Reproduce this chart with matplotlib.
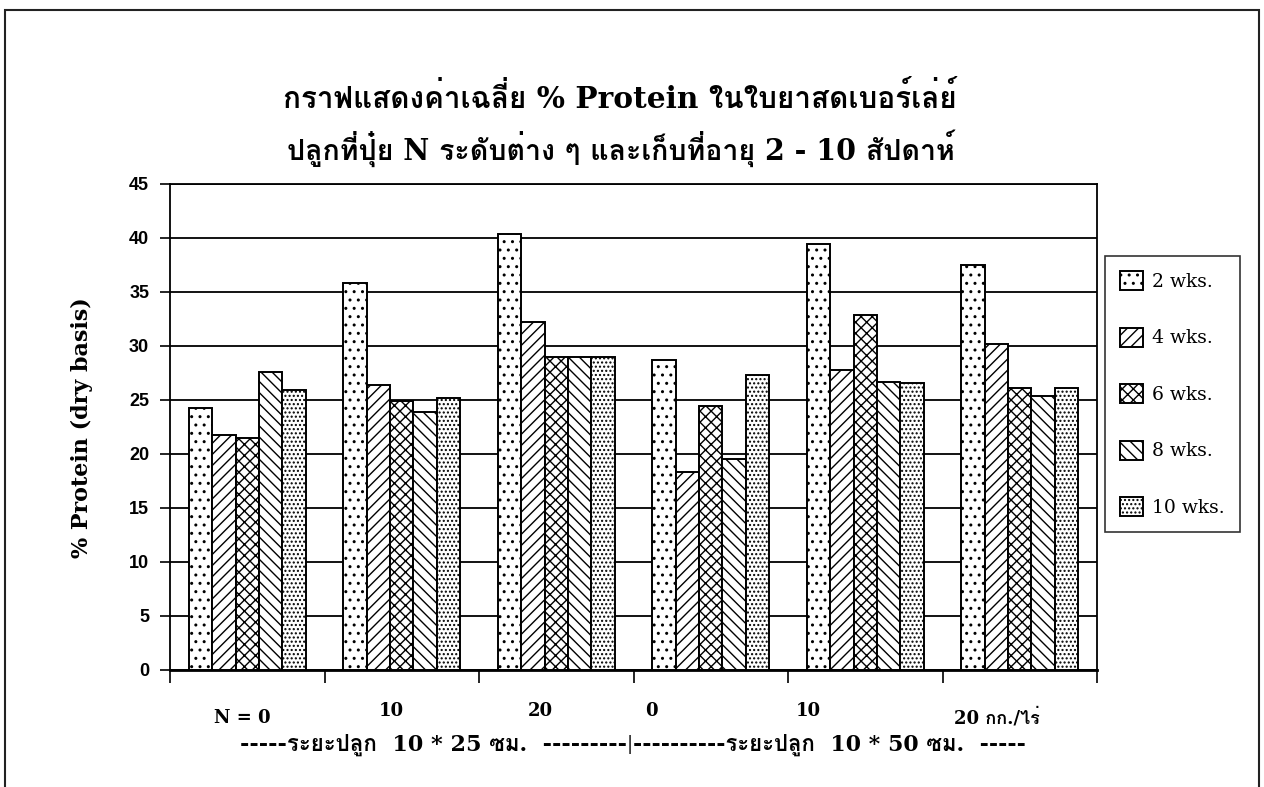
import matplotlib
matplotlib.use("Agg")
import matplotlib.pyplot as plt
from matplotlib import font_manager
from matplotlib.patches import Patch, Rectangle
import numpy as np

# ---- data -------------------------------------------------------------
groups = ["N = 0", "10", "20", "0", "10", "20 กก./ไร่"]
series = ["2 wks.", "4 wks.", "6 wks.", "8 wks.", "10 wks."]
wk2 = [24.3, 35.8, 40.4, 28.7, 39.4, 37.5]
wk4 = [21.8, 26.4, 32.2, 18.3, 27.8, 30.2]
wk6 = [21.5, 24.9, 29.0, 24.4, 32.9, 26.1]
wk8 = [27.6, 23.9, 29.0, 19.5, 26.7, 25.4]
wk10 = [25.9, 25.2, 29.0, 27.3, 26.6, 26.1]
yticks = [0, 5, 10, 15, 20, 25, 30, 35, 40, 45]
title1 = "กราฟแสดงค่าเฉลี่ย % Protein ในใบยาสดเบอร์เล่ย์"
title2 = "ปลูกที่ปุ๋ย N ระดับต่าง ๆ และเก็บที่อายุ 2 - 10 สัปดาห์"
ylabel = "% Protein (dry basis)"
spacing_left = "-----ระยะปลูก  10 * 25 ซม.  ---------"
spacing_right = "----------ระยะปลูก  10 * 50 ซม.  -----"


def thai_candidates():
    """Score installed Thai-capable families.

    Without text shaping, tone marks are drawn at their default height, so
    families whose tone marks already sit above the upper vowels read best.
    """
    try:
        from fontTools.ttLib import TTFont
        from fontTools.pens.boundsPen import BoundsPen
    except Exception:
        return []
    info = {}
    for fe in font_manager.fontManager.ttflist:
        try:
            f = TTFont(fe.fname, fontNumber=0, lazy=True)
            cmap = f.getBestCmap()
            if not cmap or 0x0E01 not in cmap:
                continue
            gs = f.getGlyphSet()

            def bounds(ch):
                bp = BoundsPen(gs)
                gs[cmap[ord(ch)]].draw(bp)
                return bp.bounds

            mark = bounds("\u0e48")
            vowel = bounds("\u0e35")
            stacks = bool(mark and vowel and mark[1] >= vowel[3] - 20)
            w = fe.weight if isinstance(fe.weight, int) else 400
            prev = info.get(fe.name, (False, 0))
            info[fe.name] = (prev[0] or stacks, max(prev[1], w))
        except Exception:
            continue

    def score(item):
        name, (stacks, w) = item
        s = 0
        s += 100 if stacks else 0
        s += 50 if w >= 600 else 0
        s += 10 if "Looped" in name else 0
        s += 5 if "Serif" in name else 0
        return -s

    return [n for n, _ in sorted(info.items(), key=score)]


cands = thai_candidates()
thai = cands[0] if cands else None
serif_fam = ["DejaVu Serif"] + ([thai] if thai else []) + ["DejaVu Sans"]
plt.rcParams["font.family"] = serif_fam
plt.rcParams["hatch.linewidth"] = 1.0
plt.rcParams["hatch.color"] = "black"

W, H = 1264, 787
fig = plt.figure(figsize=(W / 100, H / 100), dpi=100)
fig.patch.set_facecolor("white")
renderer = fig.canvas.get_renderer()


def fx(px):
    return px / W


def fy(py):
    return 1 - py / H


def fit(t, target, vertical=False):
    bb = t.get_window_extent(renderer)
    cur = bb.height if vertical else bb.width
    if cur > 0:
        t.set_fontsize(t.get_fontsize() * target / cur)


# outer frame of the sheet
fig.add_artist(Rectangle((fx(5), -0.05), fx(1254), 1.05 - 10 / H,
                         transform=fig.transFigure, fill=False,
                         edgecolor="#222222", lw=1.5))

ax = fig.add_axes([fx(170), fy(670), fx(1097 - 170), (670 - 184) / H])

values = [wk2, wk4, wk6, wk8, wk10]
hatches = ["..", "///", "xxx", "\\\\\\", "...."]
bw = 0.152
x = np.arange(len(groups))
handles = []
for i, (vals, h, lab) in enumerate(zip(values, hatches, series)):
    ax.bar(x + (i - 2) * bw, vals, width=bw, color="white",
           edgecolor="black", linewidth=1.4, hatch=h, zorder=3)
    handles.append(Patch(facecolor="white", edgecolor="black",
                         hatch=h, linewidth=1.4, label=lab))

ax.set_xlim(-0.5, len(groups) - 0.5)
ax.set_ylim(0, 45)
ax.set_yticks(yticks)
ax.set_yticklabels([str(t) for t in yticks], fontweight="bold",
                   fontsize=13, family="Liberation Sans")
ax.set_xticks(np.arange(len(groups) + 1) - 0.5)
ax.set_xticklabels([])
ax.tick_params(axis="x", direction="out", length=9, width=1.2)
ax.tick_params(axis="y", direction="out", length=7, width=1.2, pad=8)
ax.yaxis.grid(True, color="black", linewidth=1.3, zorder=0)
ax.set_axisbelow(True)
for s in ax.spines.values():
    s.set_linewidth(1.3)
ax.spines["bottom"].set_linewidth(2.0)

yl = fig.text(fx(82), fy(428), ylabel, rotation=90, ha="center",
              va="center", fontweight="bold", fontsize=14)
fit(yl, 262, vertical=True)

t1 = fig.text(fx(620), fy(98), title1, ha="center", va="center",
              fontweight="bold", fontsize=20)
fit(t1, 674)
t2 = fig.text(fx(621), fy(148), title2, ha="center", va="center",
              fontweight="bold", fontsize=20)
fit(t2, 668)

# group labels beneath the axis
label_px = [242, 391, 540, 651, 808, 997]
label_py = [718, 711, 711, 711, 711, 718]
for name, px, py in zip(groups, label_px, label_py):
    fig.text(fx(px), fy(py), name, ha="center", va="center",
             fontsize=13, fontweight="semibold")

sl = fig.text(fx(627), fy(745), spacing_left, ha="right", va="center",
              fontsize=13, fontweight="semibold")
fit(sl, 627 - 242)
fig.text(fx(630), fy(745), "|", ha="center", va="center", fontsize=13)
sr = fig.text(fx(633), fy(745), spacing_right, ha="left", va="center",
              fontsize=13, fontweight="semibold")
fit(sr, 1025 - 633)

leg = fig.legend(handles=handles, loc="upper left",
                 bbox_to_anchor=(fx(1105), fy(256)), borderaxespad=0,
                 frameon=True, fancybox=False, edgecolor="black",
                 fontsize=13.5, handlelength=1.2, handleheight=1.2,
                 handletextpad=0.5, labelspacing=1.95, borderpad=0.8)
leg.get_frame().set_linewidth(1.2)

fig.savefig("out.png", dpi=100, facecolor="white")
